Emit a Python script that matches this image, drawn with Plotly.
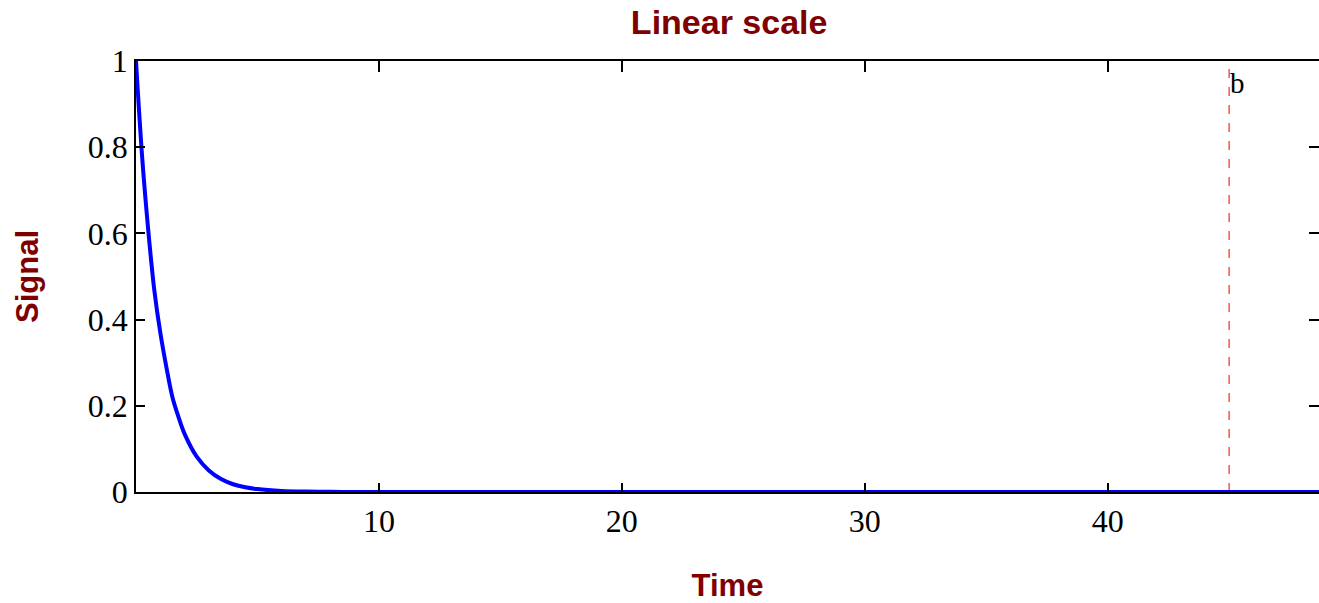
import plotly.graph_objects as go

# Data
time_vals = [0, 0.25, 0.5, 0.75, 1.0, 1.25, 1.5, 1.75, 2.0, 2.5, 3.0, 3.5, 4.0, 4.5, 5.0, 6.0, 7.0, 8.0, 9.0, 10.0, 12.0, 15.0, 20.0, 30.0, 40.0, 48.7]
signal_vals = [1.0, 0.78, 0.61, 0.47, 0.37, 0.29, 0.22, 0.174, 0.135, 0.082, 0.050, 0.030, 0.018, 0.011, 0.0067, 0.0025, 0.0009, 0.0003, 0.0001, 0.0, 0.0, 0.0, 0.0, 0.0, 0.0, 0.0]
x_ticks = [10, 20, 30, 40]
y_ticks = [0, 0.2, 0.4, 0.6, 0.8, 1.0]
y_tick_text = ["0", "0.2", "0.4", "0.6", "0.8", "1"]
marker_b = 45
x_range = [0, 48.7]
y_range = [0, 1]

title_color = "#800000"
tick_font = dict(family="Liberation Serif", size=32, color="black")

fig = go.Figure()
fig.add_trace(go.Scatter(x=time_vals, y=signal_vals, mode="lines",
                         line=dict(color="#0000ff", width=4, shape="spline"),
                         showlegend=False, hoverinfo="skip"))
# dummy trace to activate secondary axes (top/right ticks)
fig.add_trace(go.Scatter(x=[None], y=[None], xaxis="x2", yaxis="y2", showlegend=False))

fig.add_shape(type="line", xref="x", yref="paper", x0=marker_b, x1=marker_b, y0=0, y1=1,
              line=dict(color="rgba(255,30,30,0.9)", width=1.3, dash="dash"), layer="below")
fig.add_annotation(x=marker_b, y=1, xref="x", yref="paper", text="b", showarrow=False,
                   xanchor="left", yanchor="top", xshift=-1, yshift=-4,
                   font=dict(family="Liberation Serif", size=29, color="black"))

fig.update_layout(
    width=1319, height=603,
    margin=dict(l=136, r=0, t=61, b=111),
    plot_bgcolor="white", paper_bgcolor="white",
    title=dict(text="<b>Linear scale</b>", x=0.5528, xanchor="center", y=0.963, yanchor="middle",
               font=dict(family="Liberation Sans", size=34, color=title_color)),
    xaxis=dict(range=x_range, tickvals=x_ticks, ticktext=[str(v) for v in x_ticks],
               ticks="inside", ticklen=9, tickwidth=1.5, tickcolor="black",
               showline=True, linecolor="black", linewidth=1.5, showgrid=False, zeroline=False,
               tickfont=tick_font,
               title=dict(text="<b>Time</b>", standoff=38,
                          font=dict(family="Liberation Sans", size=31, color=title_color))),
    yaxis=dict(range=y_range, tickvals=y_ticks, ticktext=y_tick_text,
               ticks="inside", ticklen=9, tickwidth=1.5, tickcolor="black",
               showline=True, linecolor="black", linewidth=1.5, showgrid=False, zeroline=False,
               tickfont=tick_font,
               title=dict(text="<b>Signal</b>", standoff=40,
                          font=dict(family="Liberation Sans", size=31, color=title_color))),
    xaxis2=dict(range=x_range, overlaying="x", side="top", tickvals=x_ticks,
                showticklabels=False, ticks="inside", ticklen=11, tickwidth=1.5, tickcolor="black",
                showline=True, linecolor="black", linewidth=2, showgrid=False, zeroline=False),
    yaxis2=dict(range=y_range, overlaying="y", side="right", tickvals=y_ticks,
                showticklabels=False, ticks="inside", ticklen=10, tickwidth=1.5, tickcolor="black",
                showline=False, showgrid=False, zeroline=False),
)

fig.write_html("out.html")
